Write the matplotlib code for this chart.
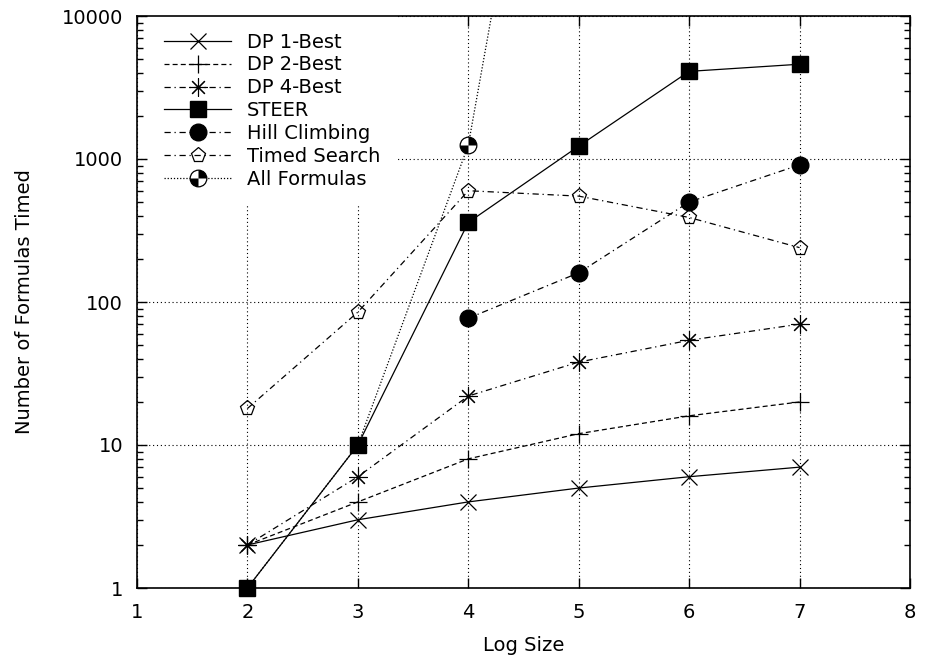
import matplotlib.pyplot as plt
from matplotlib.path import Path
from matplotlib.ticker import FixedLocator, LogLocator, NullFormatter

plt.rcParams['font.family'] = ['DejaVu Sans']
plt.rcParams['font.size'] = 14

# data
x_all = [2, 3, 4, 5, 6, 7]
dp1 = [2, 3, 4, 5, 6, 7]
dp2 = [2, 4, 8, 12, 16, 20]
dp4 = [2, 6, 22, 38, 54, 70]
steer = [1, 10, 360, 1230, 4100, 4600]
x_hill = [4, 5, 6, 7]
hill = [77, 160, 500, 910]
timed = [18, 85, 600, 550, 390, 240]
x_allf = [2, 3, 4, 5]
allf = [1, 10, 1250, 2.5e7]

y_ticks = [1, 10, 100, 1000, 10000]
y_labels = ['1', '10', '100', '1000', '10000']
x_ticks = [1, 2, 3, 4, 5, 6, 7, 8]

fig = plt.figure(figsize=(9.27, 6.65), dpi=100)
ax = fig.add_axes([137/927, 1-588/665, (910-137)/927, (588-16)/665])

lw = 0.9
dashdot = (0, (5, 3, 1, 3))

# gnuplot-like asterisk and quartered circle
star8 = (8, 2, 0)
quarters = Path.make_compound_path(Path.wedge(0, 90), Path.wedge(180, 270))

la, = ax.plot(x_allf, allf, color='k', lw=lw, ls=(0, (1, 1.5)), marker='o', ms=12,
              mfc='white', mec='k', mew=lw, markevery=[2], zorder=2)
lb, = ax.plot([x_allf[2]], [allf[2]], ls='none', marker=quarters, ms=12,
              mfc='k', mec='k', mew=0, zorder=2)
l1, = ax.plot(x_all, dp1, color='k', lw=lw, ls='-', marker='x', ms=12, mew=lw,
              clip_on=False, zorder=3)
l2, = ax.plot(x_all, dp2, color='k', lw=lw, ls=(0, (4, 2.5)), marker='+', ms=13, mew=lw,
              clip_on=False, zorder=3)
l4, = ax.plot(x_all, dp4, color='k', lw=lw, ls=dashdot, marker=star8, ms=13, mew=0.8,
              clip_on=False, zorder=3)
ls_, = ax.plot(x_all, steer, color='k', lw=lw, ls='-', marker='s', ms=12,
               mfc='k', mec='k', clip_on=False, zorder=3)
lh, = ax.plot(x_hill, hill, color='k', lw=lw, ls=dashdot, marker='o', ms=12,
              mfc='k', mec='k', clip_on=False, zorder=3)
lt, = ax.plot(x_all, timed, color='k', lw=lw, ls=dashdot, marker='p', ms=11,
              mfc='none', mec='k', mew=lw, clip_on=False, zorder=3)

ax.set_yscale('log')
ax.set_xlim(1, 8)
ax.set_ylim(1, 10000)
ax.xaxis.set_major_locator(FixedLocator(x_ticks))
ax.yaxis.set_major_locator(FixedLocator(y_ticks))
ax.set_yticklabels(y_labels)
ax.yaxis.set_minor_locator(LogLocator(base=10, subs=range(2, 10)))
ax.yaxis.set_minor_formatter(NullFormatter())

ax.tick_params(which='both', direction='in', top=True, right=True, width=1)
ax.tick_params(which='major', length=7)
ax.tick_params(which='minor', length=4)
ax.tick_params(axis='y', pad=10)
ax.tick_params(axis='x', pad=11)
for s in ax.spines.values():
    s.set_linewidth(1.2)

ax.grid(True, which='major', color='k', lw=0.8, ls=(0, (1, 2.5)), zorder=0)
ax.set_axisbelow(True)

ax.set_xlabel('Log Size', labelpad=10)
ax.set_ylabel('Number of Formulas Timed', labelpad=20)

leg = ax.legend([l1, l2, l4, ls_, lh, lt, (la, lb)],
                ['DP 1-Best', 'DP 2-Best', 'DP 4-Best', 'STEER', 'Hill Climbing',
                 'Timed Search', 'All Formulas'],
                loc='upper left', bbox_to_anchor=(0.014, 1.0), borderaxespad=0,
                handlelength=3.45, handletextpad=0.8, labelspacing=0.2,
                borderpad=0.85, fancybox=False, framealpha=1)
leg.get_frame().set_edgecolor('none')
leg.get_frame().set_facecolor('white')
leg.set_zorder(2.4)

fig.savefig('out.png', dpi=100)
